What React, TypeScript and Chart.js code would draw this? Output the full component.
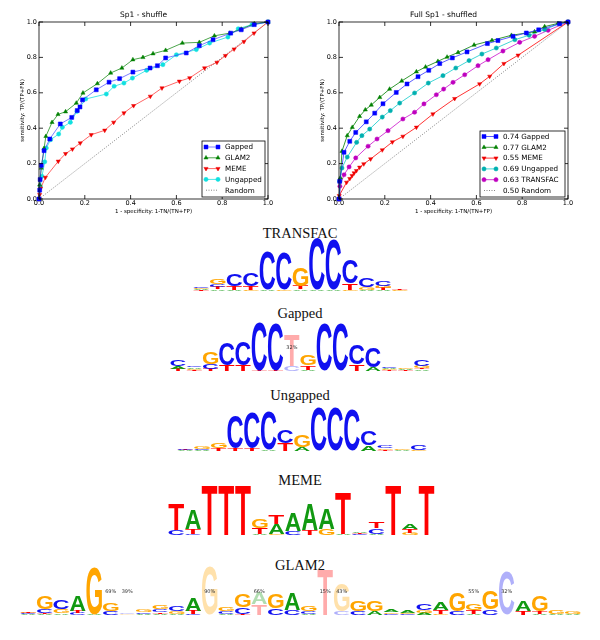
import React, { useEffect, useRef } from "react";
import { Chart, registerables } from "chart.js";
Chart.register(...registerables);

const SANS = "'DejaVu Sans', sans-serif";
const SERIF = "'Liberation Serif', 'DejaVu Serif', serif";
const LOGO_FONT = "'Liberation Sans', Arial, sans-serif";

// ---------- ROC data ----------
const tickLabels = ["0.0", "0.2", "0.4", "0.6", "0.8", "1.0"];

const leftGappedX = [0, 0.003, 0.005, 0.01, 0.022, 0.047, 0.093, 0.143, 0.167, 0.179, 0.19, 0.25, 0.306, 0.352, 0.41, 0.485, 0.517, 0.553, 0.643, 0.7, 0.76, 0.837, 0.883, 0.94, 1.0];
const leftGappedY = [0, 0.05, 0.11, 0.19, 0.273, 0.339, 0.424, 0.461, 0.5, 0.52, 0.56, 0.617, 0.66, 0.68, 0.717, 0.74, 0.753, 0.797, 0.825, 0.866, 0.9, 0.937, 0.956, 0.985, 1.0];
const leftGlam2X = [0, 0.003, 0.01, 0.022, 0.03, 0.057, 0.083, 0.116, 0.163, 0.192, 0.255, 0.313, 0.362, 0.41, 0.454, 0.498, 0.553, 0.626, 0.7, 0.766, 0.833, 0.883, 0.94, 1.0];
const leftGlam2Y = [0, 0.08, 0.175, 0.286, 0.354, 0.433, 0.478, 0.493, 0.542, 0.599, 0.652, 0.712, 0.74, 0.787, 0.8, 0.821, 0.84, 0.881, 0.885, 0.922, 0.937, 0.96, 0.99, 1.0];
const leftMemeX = [0, 0.003, 0.007, 0.028, 0.084, 0.116, 0.146, 0.18, 0.228, 0.287, 0.326, 0.371, 0.413, 0.486, 0.537, 0.613, 0.658, 0.723, 0.777, 0.814, 0.852, 0.895, 0.939, 1.0];
const leftMemeY = [0, 0.025, 0.06, 0.122, 0.213, 0.256, 0.282, 0.316, 0.363, 0.388, 0.433, 0.486, 0.527, 0.58, 0.627, 0.665, 0.684, 0.74, 0.772, 0.81, 0.847, 0.889, 0.937, 1.0];
const leftUngappedX = [0, 0.006, 0.013, 0.025, 0.032, 0.051, 0.086, 0.102, 0.137, 0.166, 0.204, 0.294, 0.328, 0.371, 0.408, 0.47, 0.541, 0.6, 0.687, 0.745, 0.825, 0.87, 0.93, 1.0];
const leftUngappedY = [0, 0.07, 0.128, 0.21, 0.288, 0.335, 0.367, 0.405, 0.433, 0.495, 0.565, 0.593, 0.637, 0.655, 0.683, 0.727, 0.759, 0.815, 0.844, 0.881, 0.915, 0.962, 0.985, 1.0];

const rightGappedX = [0, 0.003, 0.022, 0.047, 0.073, 0.119, 0.156, 0.192, 0.25, 0.297, 0.345, 0.392, 0.44, 0.495, 0.559, 0.648, 0.694, 0.76, 0.818, 0.872, 0.963, 1.0];
const rightGappedY = [0, 0.1, 0.264, 0.326, 0.376, 0.436, 0.485, 0.538, 0.602, 0.65, 0.691, 0.727, 0.765, 0.797, 0.831, 0.878, 0.895, 0.919, 0.938, 0.956, 0.99, 1.0];
const rightGlam2X = [0, 0.006, 0.013, 0.036, 0.058, 0.09, 0.115, 0.141, 0.178, 0.221, 0.274, 0.338, 0.378, 0.432, 0.472, 0.52, 0.59, 0.668, 0.753, 0.854, 0.898, 0.956, 1.0];
const rightGlam2Y = [0, 0.12, 0.27, 0.358, 0.405, 0.467, 0.504, 0.531, 0.574, 0.621, 0.667, 0.719, 0.746, 0.778, 0.802, 0.828, 0.87, 0.896, 0.925, 0.945, 0.974, 0.992, 1.0];
const rightMemeX = [0, 0.001, 0.033, 0.047, 0.057, 0.066, 0.076, 0.09, 0.108, 0.138, 0.189, 0.233, 0.279, 0.338, 0.41, 0.505, 0.614, 0.658, 0.72, 0.782, 1.0];
const rightMemeY = [0, 0.019, 0.094, 0.115, 0.132, 0.147, 0.16, 0.179, 0.198, 0.226, 0.277, 0.322, 0.354, 0.405, 0.48, 0.567, 0.65, 0.693, 0.765, 0.812, 1.0];
const rightUngappedX = [0, 0.003, 0.013, 0.036, 0.077, 0.1, 0.134, 0.189, 0.224, 0.265, 0.33, 0.39, 0.454, 0.51, 0.568, 0.624, 0.687, 0.768, 0.83, 0.898, 0.963, 1.0];
const rightUngappedY = [0, 0.1, 0.175, 0.237, 0.32, 0.358, 0.395, 0.463, 0.499, 0.542, 0.599, 0.655, 0.697, 0.74, 0.782, 0.819, 0.853, 0.9, 0.925, 0.958, 0.99, 1.0];
const rightTransfacX = [0, 0.004, 0.022, 0.044, 0.073, 0.127, 0.166, 0.214, 0.279, 0.33, 0.371, 0.425, 0.457, 0.498, 0.549, 0.607, 0.651, 0.716, 0.789, 0.854, 0.913, 1.0];
const rightTransfacY = [0, 0.072, 0.137, 0.181, 0.232, 0.298, 0.339, 0.386, 0.452, 0.49, 0.537, 0.589, 0.621, 0.659, 0.702, 0.753, 0.787, 0.836, 0.885, 0.919, 0.953, 1.0];

const randomX = [0, 1];
const randomY = [0, 1];

// ---------- Logo data (columns, bottom -> top: [letter, bits, faded]) ----------
type Cell = [string, number, number?];
type Col = Cell[];

const transfacCols: Col[] = [
  [["T", 0.04], ["A", 0.04], ["G", 0.04], ["C", 0.04]],
  [["A", 0.06], ["T", 0.08], ["C", 0.1], ["G", 0.17]],
  [["A", 0.05], ["T", 0.12], ["C", 0.45]],
  [["G", 0.04], ["T", 0.12], ["C", 0.5]],
  [["A", 0.06], ["C", 1.4]],
  [["G", 0.06], ["C", 1.37]],
  [["A", 0.06], ["T", 0.12], ["G", 0.66]],
  [["A", 0.03], ["C", 1.88]],
  [["A", 0.03], ["C", 1.86]],
  [["G", 0.04], ["T", 0.25], ["C", 0.86]],
  [["A", 0.05], ["G", 0.1], ["C", 0.32]],
  [["A", 0.04], ["T", 0.07], ["G", 0.08], ["C", 0.18]],
  [["G", 0.03], ["T", 0.05]],
];

const gappedCols: Col[] = [
  [["T", 0.08], ["A", 0.1], ["C", 0.25]],
  [["T", 0.04], ["G", 0.05], ["A", 0.05], ["C", 0.06]],
  [["T", 0.08], ["C", 0.18], ["G", 0.42]],
  [["T", 0.22], ["C", 0.83]],
  [["T", 0.22], ["C", 0.89]],
  [["T", 0.03], ["C", 1.8]],
  [["T", 0.03], ["C", 1.77]],
  [["C", 0.2, 1], ["T", 1.16, 1]],
  [["A", 0.05], ["T", 0.15], ["G", 0.38]],
  [["C", 1.75]],
  [["C", 1.73]],
  [["T", 0.25], ["C", 0.74]],
  [["A", 0.15], ["C", 0.74]],
  [["T", 0.03], ["G", 0.04], ["A", 0.05], ["C", 0.05]],
  [["T", 0.03], ["A", 0.04], ["G", 0.06]],
  [["A", 0.06], ["T", 0.06], ["G", 0.08], ["C", 0.23]],
];
const gappedLabels: [number, string][] = [[7, "32%"]];

const ungappedCols: Col[] = [
  [["A", 0.02], ["T", 0.02], ["C", 0.02]],
  [["A", 0.04], ["C", 0.04], ["G", 0.07]],
  [["T", 0.1], ["G", 0.18]],
  [["T", 0.1], ["C", 1.2]],
  [["T", 0.1], ["C", 1.3]],
  [["A", 0.06], ["C", 1.4]],
  [["T", 0.3], ["C", 0.48]],
  [["A", 0.15], ["G", 0.45]],
  [["C", 1.6]],
  [["C", 1.63]],
  [["C", 1.5]],
  [["A", 0.2], ["C", 0.52]],
  [["T", 0.05], ["G", 0.05], ["C", 0.1]],
  [["A", 0.02], ["G", 0.02]],
  [["G", 0.05], ["C", 0.2]],
];

const memeCols: Col[] = [
  [["C", 0.18], ["T", 0.98]],
  [["C", 0.05], ["T", 0.18], ["A", 0.7]],
  [["T", 1.81]],
  [["T", 1.81]],
  [["T", 1.81]],
  [["A", 0.05], ["T", 0.22], ["G", 0.35]],
  [["G", 0.03], ["A", 0.36], ["T", 0.35]],
  [["C", 0.15], ["A", 0.65]],
  [["T", 0.2], ["A", 0.97]],
  [["G", 0.22], ["A", 0.77]],
  [["A", 0.05], ["T", 1.55]],
  [["C", 0.03], ["T", 0.03], ["A", 0.06]],
  [["A", 0.05], ["C", 0.2], ["T", 0.25]],
  [["T", 1.81]],
  [["G", 0.08], ["T", 0.15], ["A", 0.2]],
  [["T", 1.81]],
];

const glam2Cols: Col[] = [
  [["A", 0.03], ["C", 0.03], ["G", 0.03], ["T", 0.02]],
  [["A", 0.05], ["T", 0.03], ["C", 0.12], ["G", 0.5]],
  [["A", 0.06], ["G", 0.14], ["C", 0.34]],
  [["C", 0.08], ["T", 0.08], ["A", 0.56]],
  [["A", 0.03], ["G", 1.75]],
  [["C", 0.15], ["G", 0.3]],
  [["G", 0.05, 1], ["C", 0.06, 1]],
  [["A", 0.05], ["C", 0.06], ["G", 0.08]],
  [["A", 0.05], ["T", 0.06], ["C", 0.1], ["G", 0.15]],
  [["A", 0.05], ["G", 0.08], ["C", 0.18]],
  [["C", 0.04], ["T", 0.12], ["A", 0.5]],
  [["G", 1.79, 1]],
  [["A", 0.05], ["C", 0.08], ["G", 0.12]],
  [["T", 0.05], ["C", 0.25], ["G", 0.5]],
  [["T", 0.4, 1], ["A", 0.45, 1]],
  [["C", 0.25], ["G", 0.55]],
  [["C", 0.2], ["A", 0.6]],
  [["A", 0.05], ["C", 0.08], ["G", 0.18]],
  [["T", 1.7, 1]],
  [["C", 0.15, 1], ["G", 1.0, 1]],
  [["C", 0.15], ["G", 0.4]],
  [["A", 0.15], ["G", 0.38]],
  [["C", 0.05], ["G", 0.06], ["A", 0.1]],
  [["C", 0.04], ["G", 0.05], ["A", 0.1]],
  [["A", 0.08], ["G", 0.1], ["C", 0.22]],
  [["G", 0.05], ["T", 0.14], ["A", 0.3]],
  [["C", 0.15], ["G", 0.7]],
  [["A", 0.05], ["T", 0.12], ["G", 0.25]],
  [["C", 0.2], ["G", 0.66]],
  [["C", 1.6, 1]],
  [["T", 0.15], ["A", 0.4]],
  [["A", 0.05], ["T", 0.1], ["G", 0.6]],
  [["A", 0.05], ["G", 0.15]],
  [["A", 0.04], ["G", 0.08]],
];
const glam2Labels: [number, string][] = [
  [5, "69%"], [6, "39%"], [11, "90%"], [14, "66%"], [18, "15%"], [19, "43%"], [27, "55%"], [29, "32%"],
];

const LETTER_COLORS: Record<string, string> = { A: "#119911", C: "#1010f0", G: "#ffa500", T: "#ff0000" };

// ---------- ROC chart ----------
interface Series {
  label: string; xs: number[]; ys: number[]; color: string; line: string;
  style: string; rot: number; r: number; dotted?: boolean;
}

function drawMarker(ctx: CanvasRenderingContext2D, s: Series, x: number, y: number) {
  ctx.save();
  ctx.translate(x, y);
  ctx.rotate((s.rot * Math.PI) / 180);
  ctx.beginPath();
  const r = s.r;
  if (s.style === "rect") {
    const h = r * Math.SQRT1_2;
    ctx.rect(-h, -h, 2 * h, 2 * h);
  } else if (s.style === "triangle") {
    for (let k = 0; k < 3; k++) {
      const a = ((-90 + k * 120) * Math.PI) / 180;
      if (k === 0) ctx.moveTo(r * Math.cos(a), r * Math.sin(a));
      else ctx.lineTo(r * Math.cos(a), r * Math.sin(a));
    }
    ctx.closePath();
  } else {
    ctx.arc(0, 0, r, 0, Math.PI * 2);
  }
  ctx.fillStyle = s.color;
  ctx.strokeStyle = s.color;
  ctx.lineWidth = 0.5;
  ctx.fill();
  ctx.stroke();
  ctx.restore();
}

const framePlugin = {
  id: "frame",
  afterDraw(chart: any) {
    const { ctx, chartArea: a, scales } = chart;
    ctx.save();
    ctx.strokeStyle = "#000";
    ctx.lineWidth = 0.8;
    ctx.strokeRect(a.left, a.top, a.right - a.left, a.bottom - a.top);
    const L = 4;
    ctx.beginPath();
    scales.x.ticks.forEach((t: any) => {
      const px = scales.x.getPixelForValue(t.value);
      ctx.moveTo(px, a.bottom); ctx.lineTo(px, a.bottom - L);
      ctx.moveTo(px, a.top); ctx.lineTo(px, a.top + L);
    });
    scales.y.ticks.forEach((t: any) => {
      const py = scales.y.getPixelForValue(t.value);
      ctx.moveTo(a.left, py); ctx.lineTo(a.left + L, py);
      ctx.moveTo(a.right, py); ctx.lineTo(a.right - L, py);
    });
    ctx.stroke();
    ctx.restore();
  },
};

function makeLegend(series: Series[], w: number, h: number, firstOff: number) {
  return {
    id: "rocLegend",
    afterDraw(chart: any) {
      const { ctx, chartArea: a } = chart;
      const x0 = a.right - 3 - w;
      const y0 = a.bottom - 2 - h;
      ctx.save();
      ctx.fillStyle = "#fff";
      ctx.fillRect(x0, y0, w, h);
      ctx.strokeStyle = "#000";
      ctx.lineWidth = 0.8;
      ctx.strokeRect(x0, y0, w, h);
      const rowH = 10.8;
      series.forEach((s, i) => {
        const y = y0 + firstOff + i * rowH;
        ctx.save();
        ctx.strokeStyle = s.line;
        ctx.lineWidth = s.dotted ? 0.8 : 1;
        ctx.setLineDash(s.dotted ? [1, 1.5] : []);
        ctx.beginPath();
        ctx.moveTo(x0 + 4, y);
        ctx.lineTo(x0 + 16, y);
        ctx.stroke();
        ctx.restore();
        if (!s.dotted) {
          drawMarker(ctx, s, x0 + 4, y);
          drawMarker(ctx, s, x0 + 16, y);
        }
        ctx.fillStyle = "#000";
        ctx.font = `7.2px ${SANS}`;
        ctx.textBaseline = "middle";
        ctx.textAlign = "left";
        ctx.fillText(s.label, x0 + 23, y + 0.5);
      });
      ctx.restore();
    },
  };
}

function Roc(props: { left: number; title: string; series: Series[]; lw: number; lh: number; firstOff: number }) {
  const ref = useRef<HTMLCanvasElement>(null);
  useEffect(() => {
    const { title, series, lw, lh, firstOff } = props;
    const scaleBase = (text: string) => ({
      type: "linear" as const,
      min: 0,
      max: 1,
      grid: { display: false, drawTicks: false },
      border: { display: false },
      ticks: {
        stepSize: 0.2,
        autoSkip: false,
        maxRotation: 0,
        color: "#000",
        font: { family: SANS, size: 6.5 },
        callback: (v: any) => tickLabels[Math.round(Number(v) / 0.2)],
      },
      title: { display: true, text, color: "#000", font: { family: SANS, size: 5.5 }, padding: 0 },
    });
    const xs: any = scaleBase("1 - specificity: 1-TN/(TN+FP)");
    xs.ticks.padding = 0;
    xs.afterFit = (s: any) => { s.height = 16; };
    const ys: any = scaleBase("sensitivity: TP/(TP+FN)");
    ys.ticks.padding = 2;
    ys.afterFit = (s: any) => { s.width = 20; };
    const chart = new Chart(ref.current!, {
      type: "line",
      data: {
        datasets: series.map((s) => ({
          label: s.label,
          data: s.xs.map((x, i) => ({ x, y: s.ys[i] })),
          borderColor: s.line,
          borderWidth: s.dotted ? 0.8 : 1,
          borderDash: s.dotted ? [1, 1.5] : [],
          pointStyle: s.style as any,
          pointRadius: s.dotted ? 0 : s.r,
          pointRotation: s.rot,
          pointBackgroundColor: s.color,
          pointBorderColor: s.color,
          pointBorderWidth: 0.5,
          tension: 0,
          fill: false,
          clip: 6,
        })),
      },
      options: {
        animation: false,
        responsive: false,
        maintainAspectRatio: false,
        events: [],
        layout: { padding: { left: 19, right: 32, top: 0, bottom: 0 } },
        plugins: {
          legend: { display: false },
          tooltip: { enabled: false },
          title: {
            display: true,
            text: title,
            color: "#000",
            font: { family: SANS, size: 7.5, weight: "normal" },
            padding: { top: 11, bottom: 2 },
          },
        },
        scales: { x: xs, y: ys },
      },
      plugins: [framePlugin, makeLegend(series, lw, lh, firstOff)],
    });
    return () => chart.destroy();
  }, []);
  return (
    <canvas
      ref={ref}
      width={300}
      height={215}
      style={{ position: "absolute", left: props.left, top: 0, width: 300, height: 215 }}
    />
  );
}

// ---------- Sequence logo ----------
function Logo(props: { cols: Col[]; left: number; baseline: number; colW: number; labels?: [number, string][] }) {
  const ref = useRef<HTMLCanvasElement>(null);
  const W = Math.round(props.cols.length * props.colW);
  const H = 54;
  useEffect(() => {
    const { cols, labels } = props;
    const depth = Math.max(...cols.map((c) => c.length));
    const datasets = Array.from({ length: depth }, (_, k) => ({
      data: cols.map((c) => (c[k] ? c[k][1] : 0)),
      backgroundColor: "rgba(0,0,0,0)",
      borderWidth: 0,
      barPercentage: 1,
      categoryPercentage: 1,
    }));
    const letterPlugin = {
      id: "letters",
      afterDatasetsDraw(chart: any) {
        const ctx: CanvasRenderingContext2D = chart.ctx;
        ctx.save();
        ctx.font = `bold 100px ${LOGO_FONT}`;
        ctx.textAlign = "left";
        ctx.textBaseline = "alphabetic";
        const cache: Record<string, TextMetrics> = {};
        for (let k = 0; k < depth; k++) {
          const meta = chart.getDatasetMeta(k);
          meta.data.forEach((el: any, j: number) => {
            const cell = cols[j][k];
            if (!cell) return;
            const { x, y, base, width } = el.getProps(["x", "y", "base", "width"], true);
            const h = base - y;
            if (h < 0.3) return;
            const letter = cell[0];
            const m = cache[letter] || (cache[letter] = ctx.measureText(letter));
            const gw = m.actualBoundingBoxLeft + m.actualBoundingBoxRight;
            const gh = m.actualBoundingBoxAscent + m.actualBoundingBoxDescent;
            const w = width * 0.94;
            ctx.save();
            ctx.globalAlpha = cell[2] ? 0.33 : 1;
            ctx.fillStyle = LETTER_COLORS[letter];
            ctx.translate(x - w / 2, y);
            ctx.scale(w / gw, h / gh);
            ctx.fillText(letter, m.actualBoundingBoxLeft, m.actualBoundingBoxAscent);
            ctx.restore();
          });
        }
        if (labels) {
          ctx.font = `5px ${SANS}`;
          ctx.fillStyle = "#333";
          ctx.textAlign = "center";
          ctx.textBaseline = "middle";
          labels.forEach(([j, t]) => {
            ctx.fillText(t, chart.scales.x.getPixelForValue(j), chart.scales.y.getPixelForValue(0.87));
          });
        }
        ctx.restore();
      },
    };
    const chart = new Chart(ref.current!, {
      type: "bar",
      data: { labels: cols.map((_, i) => String(i + 1)), datasets },
      options: {
        animation: false,
        responsive: false,
        maintainAspectRatio: false,
        events: [],
        layout: { padding: 0 },
        plugins: { legend: { display: false }, tooltip: { enabled: false } },
        scales: {
          x: { stacked: true, display: false },
          y: { stacked: true, display: false, min: 0, max: 2 },
        },
      },
      plugins: [letterPlugin],
    });
    return () => chart.destroy();
  }, []);
  return (
    <canvas
      ref={ref}
      width={W}
      height={H}
      style={{ position: "absolute", left: props.left, top: props.baseline - H, width: W, height: H }}
    />
  );
}

function Title(props: { text: string; baseline: number }) {
  return (
    <div
      style={{
        position: "absolute",
        left: 0,
        width: 600,
        top: props.baseline - 12,
        textAlign: "center",
        fontFamily: SERIF,
        fontSize: "14.5px",
        lineHeight: "14.5px",
        color: "#111",
      }}
    >
      {props.text}
    </div>
  );
}

const leftSeries: Series[] = [
  { label: "Gapped", xs: leftGappedX, ys: leftGappedY, color: "#0000ff", line: "rgba(40,40,255,0.6)", style: "rect", rot: 0, r: 2.8 },
  { label: "GLAM2", xs: leftGlam2X, ys: leftGlam2Y, color: "#008000", line: "rgba(0,128,0,0.7)", style: "triangle", rot: 0, r: 2.4 },
  { label: "MEME", xs: leftMemeX, ys: leftMemeY, color: "#ee0000", line: "rgba(255,0,0,0.6)", style: "triangle", rot: 180, r: 2.4 },
  { label: "Ungapped", xs: leftUngappedX, ys: leftUngappedY, color: "#10e0e0", line: "rgba(0,220,220,0.7)", style: "circle", rot: 0, r: 2.1 },
  { label: "Random", xs: randomX, ys: randomY, color: "#555", line: "#666", style: "circle", rot: 0, r: 0, dotted: true },
];

const rightSeries: Series[] = [
  { label: "0.74 Gapped", xs: rightGappedX, ys: rightGappedY, color: "#0000ff", line: "rgba(40,40,255,0.75)", style: "rect", rot: 0, r: 2.8 },
  { label: "0.77 GLAM2", xs: rightGlam2X, ys: rightGlam2Y, color: "#008000", line: "rgba(0,128,0,0.8)", style: "triangle", rot: 0, r: 2.4 },
  { label: "0.55 MEME", xs: rightMemeX, ys: rightMemeY, color: "#ee0000", line: "rgba(255,0,0,0.8)", style: "triangle", rot: 180, r: 2.4 },
  { label: "0.69 Ungapped", xs: rightUngappedX, ys: rightUngappedY, color: "#00b0b0", line: "rgba(0,200,200,0.75)", style: "circle", rot: 0, r: 2.1 },
  { label: "0.63 TRANSFAC", xs: rightTransfacX, ys: rightTransfacY, color: "#bf00bf", line: "rgba(200,0,200,0.75)", style: "circle", rot: 0, r: 2.1 },
  { label: "0.50 Random", xs: randomX, ys: randomY, color: "#555", line: "#666", style: "circle", rot: 0, r: 0, dotted: true },
];

export default function App() {
  return (
    <div style={{ position: "absolute", left: 0, top: 0, width: 600, height: 640, background: "#fff", overflow: "hidden" }}>
      <Roc left={0} title="Sp1 - shuffle" series={leftSeries} lw={63} lh={56} firstOff={6} />
      <Roc left={300} title="Full Sp1 - shuffled" series={rightSeries} lw={85} lh={66} firstOff={5.5} />
      <Title text="TRANSFAC" baseline={238} />
      <Logo cols={transfacCols} left={193} baseline={291} colW={16.5} />
      <Title text="Gapped" baseline={318} />
      <Logo cols={gappedCols} left={170} baseline={371} colW={16.25} labels={gappedLabels} />
      <Title text="Ungapped" baseline={400} />
      <Logo cols={ungappedCols} left={177} baseline={451} colW={16.67} />
      <Title text="MEME" baseline={485} />
      <Logo cols={memeCols} left={168} baseline={535} colW={16.67} />
      <Title text="GLAM2" baseline={570} />
      <Logo cols={glam2Cols} left={20} baseline={615} colW={16.5} labels={glam2Labels} />
    </div>
  );
}
